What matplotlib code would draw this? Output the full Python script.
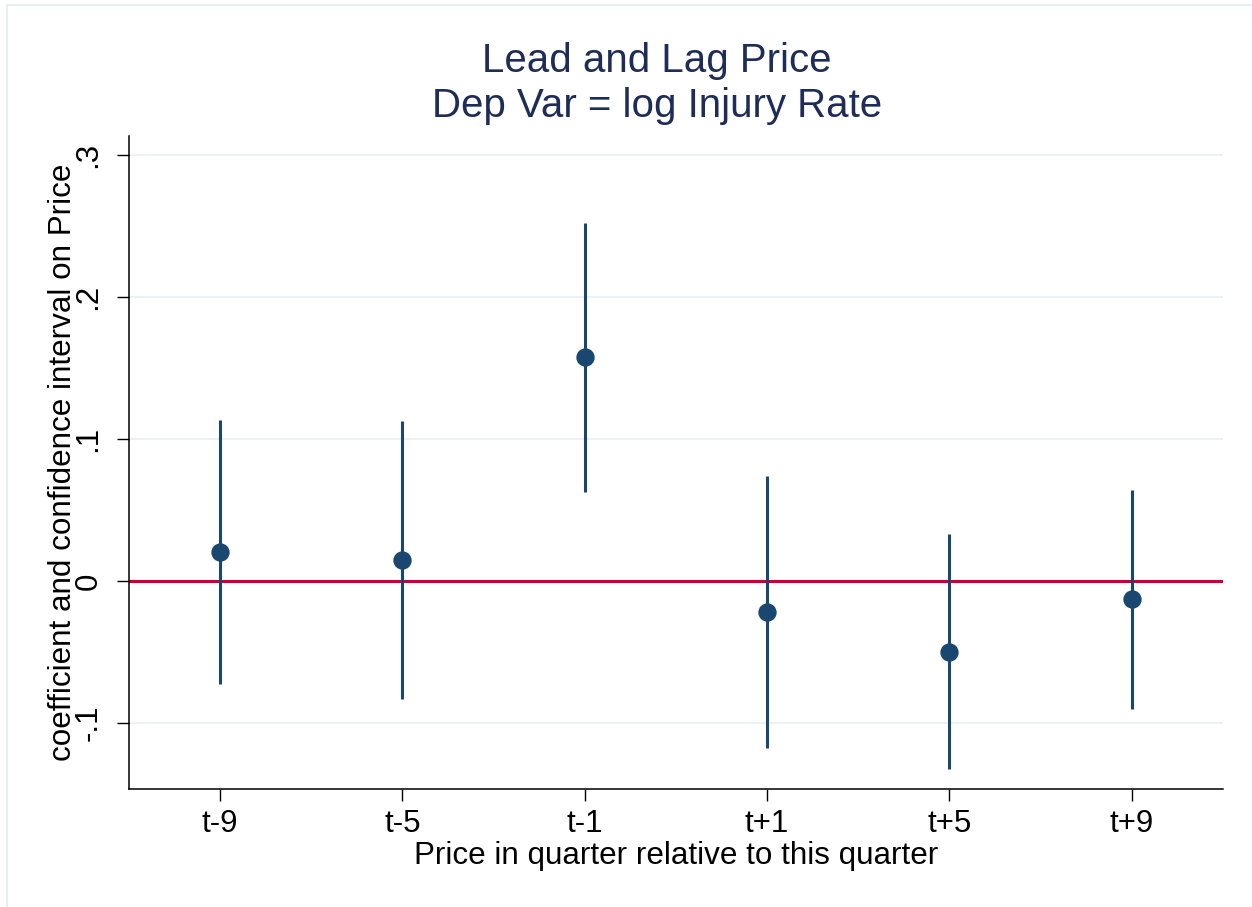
import matplotlib
matplotlib.use("Agg")
import matplotlib.pyplot as plt
from matplotlib.lines import Line2D

plt.rcParams['font.family'] = ['Liberation Sans', 'DejaVu Sans']

labels = ['t-9', 't-5', 't-1', 't+1', 't+5', 't+9']
coef = [0.0206, 0.0145, 0.1576, -0.0222, -0.0499, -0.0130]
ci_low = [-0.0724, -0.0830, 0.0627, -0.1180, -0.1326, -0.0905]
ci_high = [0.1134, 0.1125, 0.2525, 0.0740, 0.0329, 0.0641]
yticks = [-0.1, 0.0, 0.1, 0.2, 0.3]
ytick_labels = ['-.1', '0', '.1', '.2', '.3']

W, H = 1252, 907
fig = plt.figure(figsize=(W / 100, H / 100), dpi=100)
fig.patch.set_facecolor('white')

L, R, T, B = 129, 1222.7, 136, 789
ax = fig.add_axes([L / W, 1 - B / H, (R - L) / W, (B - T) / H])

navy = '#1a476f'
xs = list(range(1, len(labels) + 1))

for y in yticks:
    ax.axhline(y, color='#eaf2f3', lw=1.5, zorder=0)
ax.axhline(0, color='#c10534', lw=2.2, zorder=1)

ax.vlines(xs, ci_low, ci_high, color=navy, lw=2.2, zorder=2)
ax.plot(xs, coef, 'o', color=navy, ms=12.2, mec=navy, zorder=3)

ax.set_xlim(0.5, 6.5)
ax.set_ylim(-0.1467, 0.3136)
ax.set_xticks(xs)
ax.set_xticklabels(labels, fontsize=22.5)
ax.set_yticks(yticks)
ax.set_yticklabels(ytick_labels, fontsize=22.5, rotation=90, va='center')

for s in ['top', 'right']:
    ax.spines[s].set_visible(False)
for s in ['left', 'bottom']:
    ax.spines[s].set_linewidth(1.1)
ax.tick_params(axis='both', direction='out', length=8.8, width=1.0, colors='black')
ax.tick_params(axis='x', pad=5.5)
ax.tick_params(axis='y', pad=9.5)

ax.set_xlabel('Price in quarter relative to this quarter', fontsize=22.6)
ax.xaxis.set_label_coords(0.5, -0.080)
ax.set_ylabel('coefficient and confidence interval on Price', fontsize=22.6)
ax.yaxis.set_label_coords(-0.047, 0.5)

title_color = '#1e2d57'
fig.text(657 / W, 1 - 71.7 / H, 'Lead and Lag Price', fontsize=29, color=title_color,
         ha='center', va='baseline')
fig.text(657 / W, 1 - 116.7 / H, 'Dep Var = log Injury Rate', fontsize=29, color=title_color,
         ha='center', va='baseline')

# light outer frame (top and left edges visible)
fig.add_artist(Line2D([7 / W, 1], [1 - 5 / H, 1 - 5 / H], transform=fig.transFigure,
                      color='#e8eff1', lw=1.5))
fig.add_artist(Line2D([7 / W, 7 / W], [0, 1 - 5 / H], transform=fig.transFigure,
                      color='#e8eff1', lw=1.5))

fig.savefig('out.png', dpi=100)
